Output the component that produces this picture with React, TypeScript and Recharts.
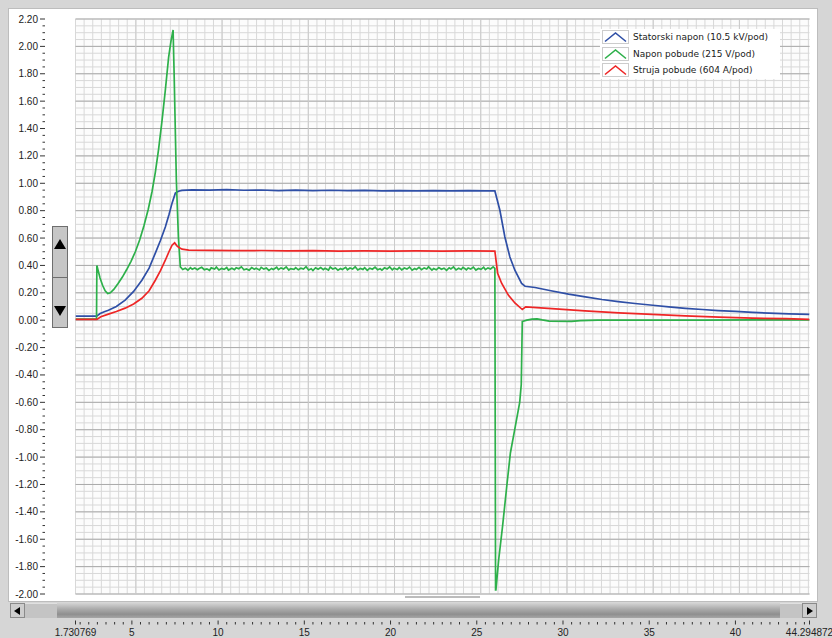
import React from 'react';
import { LineChart, Line, XAxis, YAxis, CartesianGrid, Legend } from 'recharts';

const X_MIN = 1.730769;
const X_MAX = 44.294872;
const Y_MIN = -2;
const Y_MAX = 2.2;

const seriesNames = ['Statorski napon (10.5 kV/pod)', 'Napon pobude (215 V/pod)', 'Struja pobude (604 A/pod)'];
const seriesColors = ['#2f4fa6', '#2db04a', '#ee2626'];

const xTickLabels = [1.730769, 5, 10, 15, 20, 25, 30, 35, 40, 44.294872];
const yTickLabels = [2.2, 2.0, 1.8, 1.6, 1.4, 1.2, 1.0, 0.8, 0.6, 0.4, 0.2, 0, -0.2, -0.4, -0.6, -0.8, -1.0, -1.2, -1.4, -1.6, -1.8, -2.0];

const statorData = [
  { t: 1.730769, v: 0.029 }, { t: 2.96, v: 0.029 }, { t: 3.16, v: 0.049 }, { t: 3.4, v: 0.062 }, { t: 3.64, v: 0.073 },
  { t: 4.1, v: 0.1 }, { t: 4.61, v: 0.146 }, { t: 5.1, v: 0.21 }, { t: 5.58, v: 0.292 }, { t: 6.0, v: 0.38 },
  { t: 6.36, v: 0.49 }, { t: 6.65, v: 0.58 }, { t: 6.94, v: 0.68 }, { t: 7.15, v: 0.77 }, { t: 7.33, v: 0.855 },
  { t: 7.52, v: 0.928 }, { t: 7.7, v: 0.942 }, { t: 7.9, v: 0.948 }, { t: 8.5, v: 0.952 }, { t: 9.5, v: 0.95 },
  { t: 10.5, v: 0.953 }, { t: 11.5, v: 0.949 }, { t: 12.5, v: 0.951 }, { t: 13.5, v: 0.947 }, { t: 14.5, v: 0.95 },
  { t: 15.5, v: 0.946 }, { t: 16.5, v: 0.949 }, { t: 17.5, v: 0.946 }, { t: 18.5, v: 0.948 }, { t: 19.5, v: 0.945 },
  { t: 20.5, v: 0.947 }, { t: 21.5, v: 0.944 }, { t: 22.5, v: 0.946 }, { t: 23.5, v: 0.944 }, { t: 24.5, v: 0.946 },
  { t: 25.5, v: 0.944 }, { t: 26.05, v: 0.944 }, { t: 26.34, v: 0.803 }, { t: 26.63, v: 0.608 }, { t: 26.92, v: 0.462 },
  { t: 27.21, v: 0.365 }, { t: 27.6, v: 0.268 }, { t: 27.8, v: 0.248 }, { t: 28.38, v: 0.239 }, { t: 29.3, v: 0.215 },
  { t: 30.32, v: 0.19 }, { t: 31.3, v: 0.17 }, { t: 32.26, v: 0.151 }, { t: 33.2, v: 0.136 }, { t: 34.18, v: 0.122 },
  { t: 35.2, v: 0.109 }, { t: 36.14, v: 0.097 }, { t: 37.1, v: 0.087 }, { t: 38.08, v: 0.078 }, { t: 39.0, v: 0.07 },
  { t: 40.0, v: 0.064 }, { t: 41.0, v: 0.057 }, { t: 41.96, v: 0.051 }, { t: 43.1, v: 0.046 }, { t: 44.294872, v: 0.042 },
];

const excVoltData = [
  { t: 1.730769, v: 0.008 }, { t: 2.95, v: 0.008 }, { t: 2.97, v: 0.4 }, { t: 3.05, v: 0.36 }, { t: 3.15, v: 0.31 },
  { t: 3.3, v: 0.255 }, { t: 3.45, v: 0.215 }, { t: 3.6, v: 0.195 }, { t: 3.75, v: 0.2 }, { t: 3.95, v: 0.225 },
  { t: 4.2, v: 0.268 }, { t: 4.45, v: 0.315 }, { t: 4.7, v: 0.37 }, { t: 4.95, v: 0.43 }, { t: 5.2, v: 0.5 },
  { t: 5.45, v: 0.585 }, { t: 5.7, v: 0.69 }, { t: 5.95, v: 0.81 }, { t: 6.17, v: 0.94 }, { t: 6.36, v: 1.08 },
  { t: 6.55, v: 1.25 }, { t: 6.75, v: 1.46 }, { t: 6.94, v: 1.68 }, { t: 7.13, v: 1.92 }, { t: 7.27, v: 2.04 },
  { t: 7.39, v: 2.12 }, { t: 7.45, v: 1.8 }, { t: 7.58, v: 1.02 }, { t: 7.7, v: 0.6 }, { t: 7.81, v: 0.39 },
  { t: 7.95, v: 0.37 }, { t: 8.1, v: 0.379 }, { t: 8.25, v: 0.366 }, { t: 8.4, v: 0.384 }, { t: 8.5, v: 0.372 },
  { t: 8.65, v: 0.381 }, { t: 8.8, v: 0.368 }, { t: 8.9, v: 0.377 }, { t: 9.05, v: 0.386 }, { t: 9.2, v: 0.369 },
  { t: 9.35, v: 0.375 }, { t: 9.5, v: 0.364 }, { t: 9.6, v: 0.382 }, { t: 9.8, v: 0.373 }, { t: 9.9, v: 0.388 },
  { t: 10.05, v: 0.367 }, { t: 10.2, v: 0.378 }, { t: 10.35, v: 0.371 }, { t: 10.5, v: 0.385 }, { t: 10.6, v: 0.366 },
  { t: 10.8, v: 0.38 }, { t: 10.95, v: 0.369 }, { t: 11.05, v: 0.383 }, { t: 11.2, v: 0.376 }, { t: 11.35, v: 0.39 },
  { t: 11.5, v: 0.368 }, { t: 11.65, v: 0.374 }, { t: 11.8, v: 0.365 }, { t: 11.95, v: 0.384 }, { t: 12.1, v: 0.372 },
  { t: 12.2, v: 0.379 }, { t: 12.4, v: 0.367 }, { t: 12.5, v: 0.386 }, { t: 12.65, v: 0.373 }, { t: 12.8, v: 0.381 },
  { t: 12.95, v: 0.364 }, { t: 13.1, v: 0.378 }, { t: 13.2, v: 0.37 }, { t: 13.4, v: 0.387 }, { t: 13.5, v: 0.369 },
  { t: 13.65, v: 0.382 }, { t: 13.8, v: 0.374 }, { t: 13.95, v: 0.389 }, { t: 14.1, v: 0.366 }, { t: 14.2, v: 0.377 },
  { t: 14.4, v: 0.371 }, { t: 14.5, v: 0.384 }, { t: 14.65, v: 0.368 }, { t: 14.8, v: 0.38 }, { t: 14.95, v: 0.373 },
  { t: 15.1, v: 0.391 }, { t: 15.25, v: 0.367 }, { t: 15.4, v: 0.376 }, { t: 15.5, v: 0.363 }, { t: 15.65, v: 0.383 },
  { t: 15.8, v: 0.372 }, { t: 15.95, v: 0.385 }, { t: 16.1, v: 0.369 }, { t: 16.2, v: 0.379 }, { t: 16.4, v: 0.366 },
  { t: 16.5, v: 0.388 }, { t: 16.65, v: 0.374 }, { t: 16.8, v: 0.382 }, { t: 16.95, v: 0.365 }, { t: 17.1, v: 0.377 },
  { t: 17.2, v: 0.37 }, { t: 17.4, v: 0.386 }, { t: 17.5, v: 0.368 }, { t: 17.65, v: 0.381 }, { t: 17.8, v: 0.373 },
  { t: 17.95, v: 0.39 }, { t: 18.1, v: 0.367 }, { t: 18.25, v: 0.378 }, { t: 18.4, v: 0.371 }, { t: 18.5, v: 0.384 },
  { t: 18.65, v: 0.364 }, { t: 18.8, v: 0.38 }, { t: 18.95, v: 0.372 }, { t: 19.1, v: 0.387 }, { t: 19.25, v: 0.369 },
  { t: 19.4, v: 0.376 }, { t: 19.5, v: 0.366 }, { t: 19.65, v: 0.383 }, { t: 19.8, v: 0.374 }, { t: 19.95, v: 0.389 },
  { t: 20.1, v: 0.368 }, { t: 20.2, v: 0.379 }, { t: 20.4, v: 0.37 }, { t: 20.5, v: 0.385 }, { t: 20.65, v: 0.367 },
  { t: 20.8, v: 0.381 }, { t: 20.95, v: 0.373 }, { t: 21.1, v: 0.388 }, { t: 21.25, v: 0.365 }, { t: 21.4, v: 0.378 },
  { t: 21.5, v: 0.371 }, { t: 21.65, v: 0.386 }, { t: 21.8, v: 0.369 }, { t: 21.95, v: 0.382 }, { t: 22.1, v: 0.374 },
  { t: 22.2, v: 0.39 }, { t: 22.4, v: 0.366 }, { t: 22.5, v: 0.377 }, { t: 22.65, v: 0.368 }, { t: 22.8, v: 0.384 },
  { t: 22.95, v: 0.372 }, { t: 23.1, v: 0.38 }, { t: 23.25, v: 0.364 }, { t: 23.4, v: 0.383 }, { t: 23.5, v: 0.375 },
  { t: 23.65, v: 0.389 }, { t: 23.8, v: 0.367 }, { t: 23.95, v: 0.379 }, { t: 24.1, v: 0.37 }, { t: 24.2, v: 0.386 },
  { t: 24.4, v: 0.368 }, { t: 24.5, v: 0.381 }, { t: 24.65, v: 0.373 }, { t: 24.8, v: 0.388 }, { t: 24.95, v: 0.366 },
  { t: 25.1, v: 0.378 }, { t: 25.25, v: 0.371 }, { t: 25.4, v: 0.387 }, { t: 25.5, v: 0.369 }, { t: 25.65, v: 0.382 },
  { t: 25.8, v: 0.374 }, { t: 25.95, v: 0.39 }, { t: 26.05, v: 0.378 },
  { t: 26.09, v: -1.97 }, { t: 26.11, v: -1.97 }, { t: 26.27, v: -1.75 }, { t: 26.5, v: -1.5 }, { t: 26.75, v: -1.2 },
  { t: 26.95, v: -0.97 }, { t: 27.2, v: -0.8 }, { t: 27.49, v: -0.6 }, { t: 27.58, v: -0.47 }, { t: 27.64, v: -0.01 },
  { t: 27.9, v: 0.0 }, { t: 28.2, v: 0.008 }, { t: 28.5, v: 0.01 }, { t: 28.8, v: 0.002 }, { t: 29.2, v: -0.007 },
  { t: 30.5, v: -0.008 }, { t: 31.0, v: -0.003 }, { t: 32.0, v: 0.0 }, { t: 35.0, v: 0.0 }, { t: 38.0, v: 0.001 },
  { t: 41.0, v: 0.002 }, { t: 44.294872, v: 0.003 },
];

const excCurrData = [
  { t: 1.730769, v: 0.006 }, { t: 2.97, v: 0.006 }, { t: 3.2, v: 0.025 }, { t: 3.64, v: 0.044 }, { t: 4.1, v: 0.063 },
  { t: 4.61, v: 0.088 }, { t: 5.1, v: 0.118 }, { t: 5.58, v: 0.16 }, { t: 6.0, v: 0.215 }, { t: 6.36, v: 0.292 },
  { t: 6.65, v: 0.36 }, { t: 6.94, v: 0.438 }, { t: 7.15, v: 0.5 }, { t: 7.33, v: 0.548 }, { t: 7.48, v: 0.565 },
  { t: 7.6, v: 0.545 }, { t: 7.71, v: 0.533 }, { t: 7.91, v: 0.519 }, { t: 8.3, v: 0.512 }, { t: 9.5, v: 0.51 },
  { t: 11.0, v: 0.508 }, { t: 12.5, v: 0.509 }, { t: 14.0, v: 0.506 }, { t: 15.5, v: 0.508 }, { t: 17.0, v: 0.505 },
  { t: 18.5, v: 0.507 }, { t: 20.0, v: 0.505 }, { t: 21.5, v: 0.506 }, { t: 23.0, v: 0.504 }, { t: 24.5, v: 0.506 },
  { t: 26.05, v: 0.505 }, { t: 26.21, v: 0.343 }, { t: 26.44, v: 0.27 }, { t: 26.83, v: 0.183 }, { t: 27.21, v: 0.126 },
  { t: 27.64, v: 0.078 }, { t: 27.84, v: 0.097 }, { t: 29.35, v: 0.085 }, { t: 31.27, v: 0.068 }, { t: 33.23, v: 0.053 },
  { t: 35.17, v: 0.042 }, { t: 37.09, v: 0.031 }, { t: 39.05, v: 0.022 }, { t: 41.0, v: 0.015 }, { t: 42.91, v: 0.011 },
  { t: 44.294872, v: 0.006 },
];

const FONT = '"Liberation Sans", Arial, sans-serif';
const LEGEND_FONT = '"DejaVu Sans", Verdana, sans-serif';

// axis decoration positions
const yAllTicks: number[] = Array.from({ length: 85 }, (_, k) => (-200 + 5 * k) / 100);
const xAllTicks: number[] = [X_MIN, ...Array.from({ length: 85 }, (_, k) => 2 + 0.5 * k), X_MAX];
const xGridValues: number[] = Array.from({ length: 86 }, (_, k) => X_MIN + 0.5 * k);
const xGridMajor: number[] = xGridValues.filter((_, k) => k % 10 === 7);

const isIn = (arr: number[], v: number) => arr.some((a) => Math.abs(a - v) < 1e-6);

const mapY = (props: any, v: number) => {
  const ax = props?.yAxis;
  if (ax && typeof ax.scale === 'function') return ax.scale(v);
  const o = props.offset;
  return o.top + ((Y_MAX - v) / (Y_MAX - Y_MIN)) * o.height;
};
const mapX = (props: any, v: number) => {
  const ax = props?.xAxis;
  if (ax && typeof ax.scale === 'function') return ax.scale(v);
  const o = props.offset;
  return o.left + ((v - X_MIN) / (X_MAX - X_MIN)) * o.width;
};

const YTick = (props: any) => {
  const { y, payload } = props;
  const v = payload.value;
  const major = isIn(yTickLabels, v);
  return (
    <g>
      <line x1={major ? 40 : 42.5} x2={45} y1={y} y2={y} stroke="#333" strokeWidth={1} />
      {major && (
        <text x={38} y={y} dy={3.5} textAnchor="end" fontSize={10} fontFamily={FONT} fill="#222">
          {v.toFixed(2)}
        </text>
      )}
    </g>
  );
};

const XTick = (props: any) => {
  const { x, payload } = props;
  const v = payload.value;
  const label = xTickLabels.find((l) => Math.abs(l - v) < 1e-6);
  const major = label !== undefined;
  return (
    <g>
      <line x1={x} x2={x} y1={major ? 620.5 : 622} y2={624.5} stroke="#333" strokeWidth={1} />
      {major && (
        <text x={x} y={635.5} textAnchor="middle" fontSize={10} fontFamily={FONT} fill="#222">
          {String(label)}
        </text>
      )}
    </g>
  );
};

const LegendBox = () => (
  <div
    style={{
      background: '#fff',
      width: 180,
      height: 50,
      fontFamily: LEGEND_FONT,
      fontSize: 9,
      color: '#1a1a1a',
      paddingLeft: 2,
      boxSizing: 'border-box',
    }}
  >
    {seriesNames.map((n, i) => (
      <div key={n} style={{ display: 'flex', alignItems: 'center', height: 16.5, whiteSpace: 'nowrap' }}>
        <svg width={27} height={14} style={{ marginRight: 4, flex: 'none' }}>
          <rect x={0.5} y={0.5} width={26} height={13} fill="#fff" stroke="#cccccc" />
          <polyline points="3,11.5 13.5,3 24,11.5" fill="none" stroke={seriesColors[i]} strokeWidth={1.6} />
        </svg>
        <span>{n}</span>
      </div>
    ))}
  </div>
);

const tri = (dir: 'up' | 'down' | 'left' | 'right', size: number, h: number): React.CSSProperties => {
  if (dir === 'up') return { width: 0, height: 0, borderLeft: `${size}px solid transparent`, borderRight: `${size}px solid transparent`, borderBottom: `${h}px solid #000` };
  if (dir === 'down') return { width: 0, height: 0, borderLeft: `${size}px solid transparent`, borderRight: `${size}px solid transparent`, borderTop: `${h}px solid #000` };
  if (dir === 'left') return { width: 0, height: 0, borderTop: `${size}px solid transparent`, borderBottom: `${size}px solid transparent`, borderRight: `${h}px solid #000` };
  return { width: 0, height: 0, borderTop: `${size}px solid transparent`, borderBottom: `${size}px solid transparent`, borderLeft: `${h}px solid #000` };
};

export default function App() {
  const abs = (s: React.CSSProperties): React.CSSProperties => ({ position: 'absolute', boxSizing: 'border-box', ...s });
  return (
    <div style={abs({ left: 0, top: 0, width: 832, height: 638, background: '#d6d6d6', overflow: 'hidden' })}>
      {/* white panel */}
      <div style={abs({ left: 8, top: 8, width: 810, height: 594, background: '#fff', border: '1px solid #bdbdbd' })} />
      <div style={abs({ left: 0, top: 0, width: 832, height: 638 })}>
        <LineChart width={832} height={638} margin={{ top: 19, right: 22.5, bottom: 0, left: 0 }}>
          <CartesianGrid
            vertical
            horizontal
            fill="#fcfcfc"
            stroke="#d8d8d8"
            strokeWidth={1}
            horizontalCoordinatesGenerator={(p: any) => yAllTicks.map((v) => mapY(p, v))}
            verticalCoordinatesGenerator={(p: any) => xGridValues.map((v) => mapX(p, v))}
          />
          <CartesianGrid
            vertical
            horizontal
            fill="none"
            stroke="#ababab"
            strokeWidth={1}
            horizontalCoordinatesGenerator={(p: any) => yTickLabels.map((v) => mapY(p, v))}
            verticalCoordinatesGenerator={() => []}
          />
          <CartesianGrid
            vertical
            horizontal={false}
            fill="none"
            stroke="#cbcbcb"
            strokeWidth={1}
            verticalCoordinatesGenerator={(p: any) => xGridMajor.map((v) => mapX(p, v))}
          />
          <XAxis
            dataKey="t"
            type="number"
            domain={[X_MIN, X_MAX]}
            allowDataOverflow
            ticks={xAllTicks}
            interval={0}
            height={44}
            axisLine={false}
            tickLine={false}
            tick={<XTick />}
          />
          <YAxis
            type="number"
            domain={[Y_MIN, Y_MAX]}
            allowDataOverflow
            ticks={yAllTicks}
            interval={0}
            width={75.5}
            axisLine={false}
            tickLine={false}
            tick={<YTick />}
          />
          <Line data={statorData} dataKey="v" name={seriesNames[0]} type="linear" dot={false} stroke={seriesColors[0]} strokeWidth={1.7} isAnimationActive={false} />
          <Line data={excVoltData} dataKey="v" name={seriesNames[1]} type="linear" dot={false} stroke={seriesColors[1]} strokeWidth={1.7} isAnimationActive={false} />
          <Line data={excCurrData} dataKey="v" name={seriesNames[2]} type="linear" dot={false} stroke={seriesColors[2]} strokeWidth={1.7} isAnimationActive={false} />
          <Legend
            layout="horizontal"
            verticalAlign="middle"
            align="center"
            content={() => <LegendBox />}
            wrapperStyle={{ left: 600, top: 29, width: 180, height: 50, margin: 0 }}
          />
        </LineChart>
      </div>
      {/* vertical zoom control */}
      <div style={abs({ left: 52, top: 226, width: 16, height: 102, background: '#c6c6c6', border: '1px solid #6e6e6e' })}>
        <div style={abs({ left: 1, top: 12, ...tri('up', 6, 10) })} />
        <div style={abs({ left: 0, top: 50, width: 14, height: 1, background: '#6e6e6e' })} />
        <div style={abs({ left: 1, top: 79, ...tri('down', 6, 10) })} />
      </div>
      {/* small bar */}
      <div style={abs({ left: 405, top: 596, width: 75, height: 2, background: '#bcbcbc' })} />
      {/* scrollbar */}
      <div style={abs({ left: 10, top: 603, width: 15, height: 15, background: '#cdcdcd', border: '1px solid #8a8a8a' })}>
        <div style={abs({ left: 3, top: 3, ...tri('left', 4, 6) })} />
      </div>
      <div style={abs({ left: 25, top: 603, width: 32, height: 15, background: '#c4c4c4', borderTop: '1px solid #e0e0e0' })} />
      <div
        style={abs({
          left: 57,
          top: 603,
          width: 723,
          height: 15,
          background: 'linear-gradient(to bottom, #d4d4d4 0%, #ababab 40%, #8f8f8f 75%, #a6a6a6 100%)',
        })}
      />
      <div style={abs({ left: 780, top: 603, width: 22, height: 15, background: '#c4c4c4', borderTop: '1px solid #e0e0e0' })} />
      <div style={abs({ left: 802, top: 603, width: 15, height: 15, background: '#cdcdcd', border: '1px solid #8a8a8a' })}>
        <div style={abs({ left: 4, top: 3, ...tri('right', 4, 6) })} />
      </div>
    </div>
  );
}
